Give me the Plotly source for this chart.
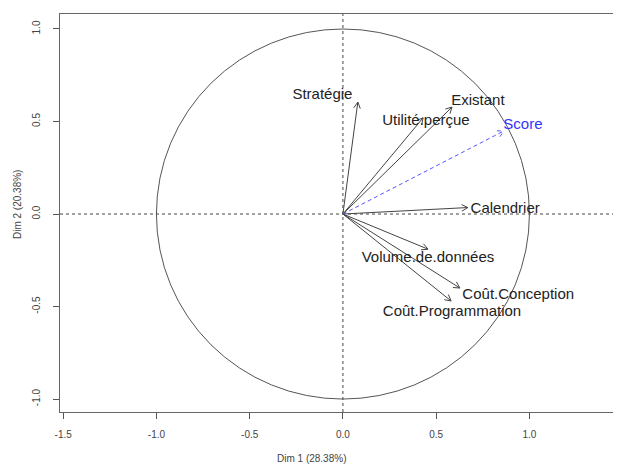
import numpy as np
import plotly.graph_objects as go

# variable coordinates (Dim 1, Dim 2)
var_names = ['Stratégie', 'Utilité.perçue', 'Existant', 'Calendrier',
             'Volume.de.données', 'Coût.Conception', 'Coût.Programmation']
dim1 = [0.080, 0.430, 0.585, 0.670, 0.456, 0.627, 0.580]
dim2 = [0.605, 0.520, 0.578, 0.035, -0.190, -0.400, -0.470]

# label positions (text centres)
lab_x = [-0.11, 0.445, 0.724, 0.870, 0.456, 0.940, 0.585]
lab_y = [0.643, 0.500, 0.608, 0.024, -0.240, -0.440, -0.530]

# supplementary variable
sup_name = 'Score'
sup_dim1 = [0.863]
sup_dim2 = [0.449]
sup_lab_x = [0.965]
sup_lab_y = [0.478]

x_ticks = [-1.5, -1.0, -0.5, 0.0, 0.5, 1.0, 1.5]
y_ticks = [-1.0, -0.5, 0.0, 0.5, 1.0]

# the page body adds an 8px margin, so the figure is 8px smaller
W, H = 613, 459
margin = dict(l=52, r=0, t=6, b=55)
x_range = [-1.517, 1.491]
y_range = [-1.070, 1.081]

# pixels per data unit, used to draw R-style open arrow heads
px_x = (W - margin['l'] - margin['r']) / (x_range[1] - x_range[0])
px_y = (H - margin['t'] - margin['b']) / (y_range[1] - y_range[0])


def arrow_path(xs, ys, head=7, angle=np.radians(28)):
    px, py = [], []
    for x, y in zip(xs, ys):
        px += [0, x, None]
        py += [0, y, None]
        theta = np.arctan2(y * px_y, x * px_x)
        for s in (1, -1):
            a = theta + np.pi - s * angle
            px += [x + head * np.cos(a) / px_x, x, None]
            py += [y + head * np.sin(a) / px_y, y, None]
    return px, py


fig = go.Figure()

ax_, ay_ = arrow_path(dim1, dim2)
fig.add_trace(go.Scatter(x=ax_, y=ay_, mode='lines',
                         line=dict(color='#444444', width=1),
                         hoverinfo='skip', showlegend=False))

sx_, sy_ = arrow_path(sup_dim1, sup_dim2)
fig.add_trace(go.Scatter(x=sx_, y=sy_, mode='lines',
                         line=dict(color='#5555ff', width=1, dash='4px,3px'),
                         hoverinfo='skip', showlegend=False))

fig.add_trace(go.Scatter(x=lab_x, y=lab_y, text=var_names, mode='text',
                         textfont=dict(family='Liberation Sans', size=15, color='#222222'),
                         showlegend=False))
fig.add_trace(go.Scatter(x=sup_lab_x, y=sup_lab_y, text=[sup_name], mode='text',
                         textfont=dict(family='Liberation Sans', size=15, color='#3333ff'),
                         showlegend=False))

# correlation circle and the dashed axes
fig.add_shape(type='circle', xref='x', yref='y', x0=-1, x1=1, y0=-1, y1=1,
              line=dict(color='#555555', width=1), layer='below')
fig.add_shape(type='line', xref='x', yref='paper', x0=0, x1=0, y0=0, y1=1,
              line=dict(color='#444444', width=1, dash='3px,3px'), layer='below')
fig.add_shape(type='line', xref='paper', yref='y', x0=0, x1=1, y0=0, y1=0,
              line=dict(color='#444444', width=1, dash='3px,3px'), layer='below')

tick_font = dict(family='Liberation Sans', size=10, color='#444444')
title_font = dict(family='Liberation Sans', size=10, color='#444444')

# the 1.5 tick label falls off the right edge, as in the original
fig.add_annotation(text='1.5', xref='paper', yref='paper',
                   x=(1.5 - x_range[0]) / (x_range[1] - x_range[0]), y=0,
                   yanchor='top', xanchor='center', yshift=-15,
                   showarrow=False, font=tick_font)

# axis titles
fig.add_annotation(text='Dim 1 (28.38%)', xref='paper', yref='paper',
                   x=0.449, y=0, yanchor='middle', xanchor='center', yshift=-46,
                   showarrow=False, font=title_font)
fig.add_annotation(text='Dim 2 (20.38%)', xref='paper', yref='paper',
                   x=0, y=0.52, yanchor='middle', xanchor='center', xshift=-43,
                   textangle=-90, showarrow=False, font=title_font)

fig.update_layout(
    width=W, height=H, margin=margin,
    plot_bgcolor='white', paper_bgcolor='white',
    xaxis=dict(range=x_range, tickvals=x_ticks,
               ticktext=['%.1f' % v for v in x_ticks],
               ticks='outside', ticklen=6, tickcolor='#555555',
               ticklabelstandoff=7, automargin=False,
               showline=True, linecolor='#666666', mirror=True,
               showgrid=False, zeroline=False, tickfont=tick_font),
    yaxis=dict(range=y_range, tickvals=y_ticks,
               ticktext=['%.1f' % v for v in y_ticks],
               tickangle=-90, automargin=False,
               ticks='outside', ticklen=6, tickcolor='#555555',
               ticklabelstandoff=9,
               showline=True, linecolor='#666666',
               showgrid=False, zeroline=False, tickfont=tick_font),
)

fig.write_html("out.html")
